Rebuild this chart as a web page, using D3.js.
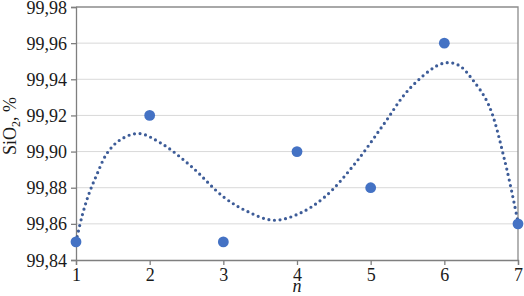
<!DOCTYPE html>
<html>
<head>
<meta charset="utf-8">
<script src="https://cdn.jsdelivr.net/npm/d3@7"></script>
<style>
  html, body { margin: 0; padding: 0; background: #fff; }
  text { font-family: "Liberation Serif", "DejaVu Serif", serif; fill: #1a1a1a; }
</style>
</head>
<body>
<div id="chart"></div>
<script>
// measured points
const nValues = [1, 2, 3, 4, 5, 6, 7];
const sio2Values = [99.85, 99.92, 99.85, 99.90, 99.88, 99.96, 99.86];

// trend curve
const trendN = [1.0, 1.08, 1.17, 1.28, 1.42, 1.6, 1.85, 2.16, 2.57, 3.0, 3.32, 3.68, 4.02, 4.38, 4.79, 5.17, 5.51, 5.9, 6.06, 6.21, 6.37, 6.6, 6.82, 7.0];
const trendV = [99.850, 99.864, 99.876, 99.887, 99.899, 99.9065, 99.910, 99.9045, 99.8916, 99.875, 99.867, 99.862, 99.8655, 99.875, 99.8935, 99.9147, 99.934, 99.9475, 99.9492, 99.9474, 99.9405, 99.926, 99.895, 99.861];

const yTicks = [99.84, 99.86, 99.88, 99.90, 99.92, 99.94, 99.96, 99.98];

function renderChart(containerId) {
    const width = 524;
    const height = 296;
    const margin = { top: 7, right: 6, bottom: 36, left: 76 };

    const svg = d3.select(`#${containerId}`)
        .append('svg')
        .attr('width', width)
        .attr('height', height);

    const x = d3.scaleLinear()
        .domain([1, 7])
        .range([margin.left, width - margin.right]);

    const y = d3.scaleLinear()
        .domain([99.84, 99.98])
        .range([height - margin.bottom, margin.top]);

    const fmt = d => d3.format('.2f')(d).replace('.', ',');

    // gridlines
    svg.append('g')
        .selectAll('line')
        .data(yTicks.slice(1, -1))
        .enter()
        .append('line')
        .attr('x1', margin.left)
        .attr('x2', width - margin.right)
        .attr('y1', d => y(d))
        .attr('y2', d => y(d))
        .attr('stroke', '#d9d9d9')
        .attr('stroke-width', 1);

    // frame top / right
    svg.append('path')
        .attr('d', `M${margin.left},${y(99.98)}H${x(7)}V${y(99.84)}`)
        .attr('fill', 'none')
        .attr('stroke', '#8c8c8c')
        .attr('stroke-width', 1.3);

    // x axis
    const xAxis = svg.append('g')
        .attr('transform', `translate(0,${y(99.84)})`)
        .call(d3.axisBottom(x).tickValues(nValues).tickSize(5).tickPadding(3).tickFormat(d3.format('d')));

    // y axis
    const yAxis = svg.append('g')
        .attr('transform', `translate(${margin.left},0)`)
        .call(d3.axisLeft(y).tickValues(yTicks).tickSize(5).tickPadding(4).tickFormat(fmt));

    [xAxis, yAxis].forEach(g => {
        g.select('.domain').attr('stroke', '#7f7f7f').attr('stroke-width', 1.3);
        g.selectAll('.tick line').attr('stroke', '#7f7f7f').attr('stroke-width', 1.3);
        g.selectAll('.tick text')
            .style('font-family', '"Liberation Serif", serif')
            .style('font-size', '18px')
            .attr('fill', '#1a1a1a');
    });
    yAxis.selectAll('.tick text').attr('dy', '0.34em');

    // trendline (dotted)
    const trend = trendN.map((n, i) => ({ n: n, v: trendV[i] }));
    const line = d3.line()
        .x(d => x(d.n))
        .y(d => y(d.v))
        .curve(d3.curveCatmullRom.alpha(0.5));

    svg.append('path')
        .datum(trend)
        .attr('d', line)
        .attr('fill', 'none')
        .attr('stroke', '#3d5c98')
        .attr('stroke-width', 3.2)
        .attr('stroke-linecap', 'round')
        .attr('stroke-dasharray', '0 5.6');

    // markers
    svg.selectAll('.pt')
        .data(nValues.map((n, i) => ({ n: n, v: sio2Values[i] })))
        .enter()
        .append('circle')
        .attr('class', 'pt')
        .attr('cx', d => x(d.n))
        .attr('cy', d => y(d.v))
        .attr('r', 5.4)
        .attr('fill', '#4472c4');

    // axis titles
    svg.append('text')
        .attr('x', x(4))
        .attr('y', 292)
        .attr('text-anchor', 'middle')
        .style('font-size', '18px')
        .style('font-style', 'italic')
        .text('n');

    const yl = svg.append('text')
        .attr('transform', `translate(16,126) rotate(-90)`)
        .attr('text-anchor', 'middle')
        .style('font-size', '18px');
    yl.append('tspan').text('SiO');
    yl.append('tspan').attr('dy', 4).style('font-size', '12px').text('2');
    yl.append('tspan').attr('dy', -4).text(', %');
}

renderChart('chart');
</script>
</body>
</html>
